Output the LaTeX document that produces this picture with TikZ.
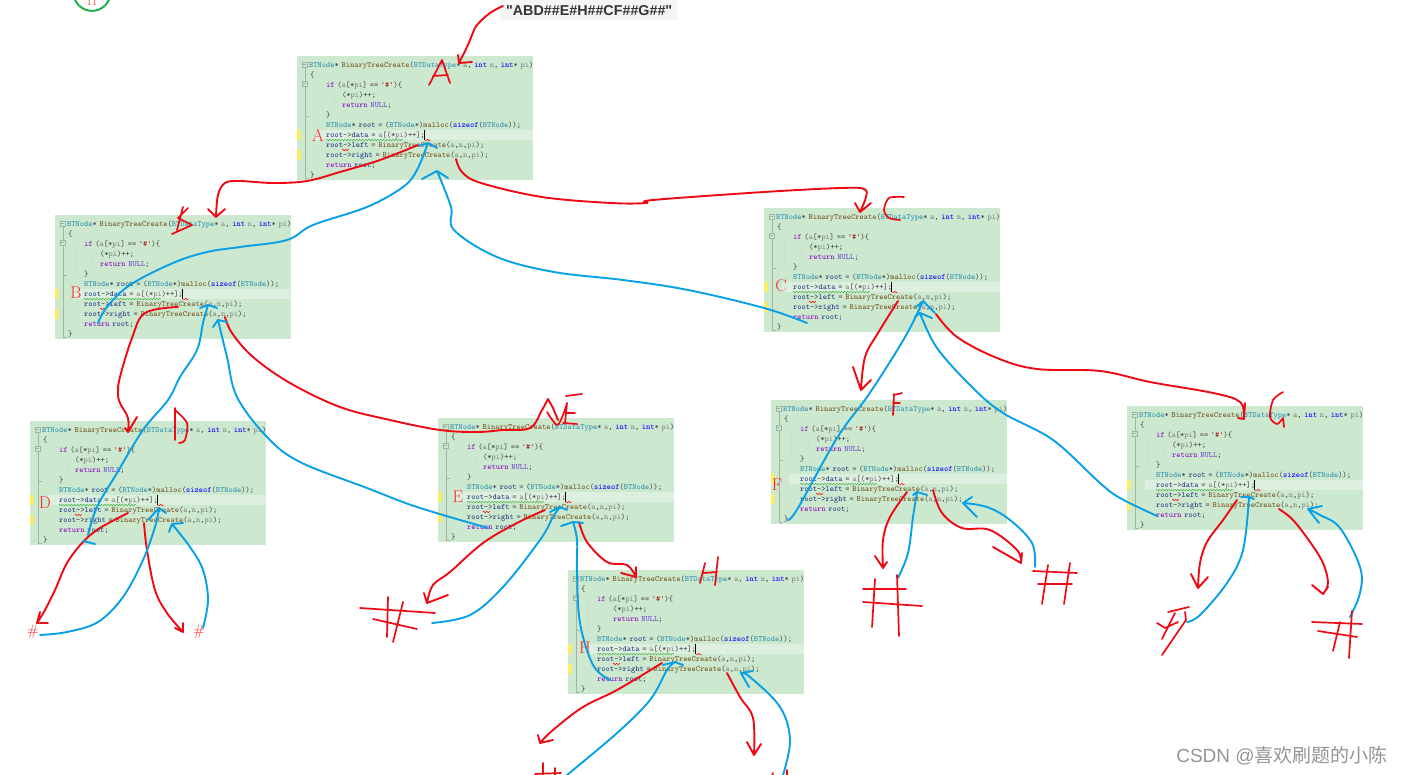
\documentclass[tikz,border=0pt]{standalone}
\usepackage{fontspec}
\usepackage{xcolor}
\usepackage{tikz}
\usetikzlibrary{decorations.pathmorphing}
\newfontfamily\labelfont{Liberation Sans}
\newfontfamily\cjkfont{Noto Sans CJK SC}
\definecolor{CodeGreen}{HTML}{CCE8CF}
\definecolor{LineGreen}{HTML}{DDEFDF}
\definecolor{MarkYellow}{HTML}{FFEE62}
\definecolor{GutterGray}{HTML}{A3B3A5}
\definecolor{CodeType}{HTML}{2B91AF}
\definecolor{CodeFunc}{HTML}{74531F}
\definecolor{CodeKey}{HTML}{8F08C4}
\definecolor{CodeInt}{HTML}{0000FF}
\definecolor{CodeNull}{HTML}{6F3FD0}
\definecolor{CodeStr}{HTML}{A31515}
\definecolor{CodeVar}{HTML}{808080}
\definecolor{CodeRoot}{HTML}{1F377F}
\definecolor{InkRed}{HTML}{EE0A14}
\definecolor{InkBlue}{HTML}{08A0E6}
\definecolor{InkGreen}{HTML}{22B14C}
\tikzset{
  codebox/.style={fill=CodeGreen,anchor=north west,minimum width=236pt,minimum height=124pt,inner sep=0pt},
  codetext/.style={anchor=north west,inner sep=0pt,align=left,text width=232pt,text=black!75,
              font=\fontsize{8}{10}\selectfont\ttfamily},
  boxletter/.style={inner sep=0pt,text=red!85,font=\fontsize{17}{17}\selectfont},
  gutter/.style={draw=GutterGray,line width=.6pt},
  callink/.style={draw=InkRed,line width=1.9pt,line cap=round,line join=round},
  backink/.style={draw=InkBlue,line width=1.9pt,line cap=round,line join=round},
  scribble/.style={draw=InkRed,line width=1.7pt,line cap=round,line join=round},
  hashtext/.style={inner sep=0pt,text=red!85,font=\fontsize{15}{15}\selectfont}
}
\newcommand{\ctype}[1]{\textcolor{CodeType}{#1}}
\newcommand{\cfunc}[1]{\textcolor{CodeFunc}{#1}}
\newcommand{\ckey}[1]{\textcolor{CodeKey}{#1}}
\newcommand{\cint}[1]{\textcolor{CodeInt}{#1}}
\newcommand{\cvar}[1]{\textcolor{CodeVar}{#1}}
\newcommand{\croot}[1]{\textcolor{CodeRoot}{#1}}
\newcommand{\codebody}{%
\ctype{BTNode}* \cfunc{BinaryTreeCreate}(\ctype{BTDataType}* \cvar{a}, \cint{int} \cvar{n}, \cint{int}* \cvar{pi})\\
\hspace*{1pt}\{\\
\hspace*{17pt}\ckey{if} (\cvar{a}[*\cvar{pi}] == \textcolor{CodeStr}{'\#'})\{\\
\hspace*{33pt}(*\cvar{pi})++;\\
\hspace*{33pt}\ckey{return} \textcolor{CodeNull}{NULL};\\
\hspace*{17pt}\}\\
\hspace*{17pt}\ctype{BTNode}* \croot{root} = (\ctype{BTNode}*)\cfunc{malloc}(\cint{sizeof}(\ctype{BTNode}));\\
\hspace*{17pt}\croot{root}->\croot{data} = \cvar{a}[(*\cvar{pi})++];\\
\hspace*{17pt}\croot{root}->\croot{left} = \cfunc{BinaryTreeCreate}(\cvar{a},\cvar{n},\cvar{pi});\\
\hspace*{17pt}\croot{root}->\croot{right} = \cfunc{BinaryTreeCreate}(\cvar{a},\cvar{n},\cvar{pi});\\
\hspace*{17pt}\ckey{return} \croot{root};\\
\hspace*{1pt}\}}
% name, left, top
\newcommand{\codepanel}[3]{%
  \node[codebox] (box#1) at (#2,#3) {};
  \begin{scope}[shift={(#2,#3)}]
    \fill[LineGreen] (18,74) rectangle (236,84);
    \fill[MarkYellow] (0,74) rectangle (3.5,84) (0,94) rectangle (3.5,104);
    \draw[gutter] (8,11) -- (8,25) (8,30) -- (8,122) -- (12,122) (8,60) -- (12,60);
    \draw[gutter] (5,6) rectangle (10,11) (5,25) rectangle (10,30) (6,8.5) -- (9,8.5) (6,27.5) -- (9,27.5);
    \draw[GutterGray!50,densely dotted,line width=.3pt] (20,31) -- (20,60) (37,38) -- (37,50);
    \node[codetext] (text#1) at (12,5.4) {\codebody};
    \draw[black,line width=.8pt] (127,74) -- (127,84);
    \draw[green!60!black,line width=.3pt,decorate,decoration={zigzag,amplitude=.8pt,segment length=3pt}] (29,84) -- (106,84);
    \draw[red,line width=.4pt,decorate,decoration={zigzag,amplitude=.8pt,segment length=3pt}] (45,94) -- (52,94) (128,84) -- (134,84);
  \end{scope}
}
\begin{document}
\begin{tikzpicture}[x=1pt,y=-1pt]
  \useasboundingbox (0,0) rectangle (1403,775);

  \node[circle,draw=InkGreen,line width=2pt,minimum size=37pt,inner sep=0pt] (marker) at (92,-7.6) {};
  \node[inner sep=0pt,text=red!60,font=\fontsize{15}{15}\selectfont] (markerH) at (92,0) {H};
  \node[fill=black!4,anchor=north west,minimum width=177pt,minimum height=20pt,inner sep=0pt,text=black!80,
        font=\labelfont\bfseries\fontsize{14.3}{14.3}\selectfont] (input) at (500,0) {\hspace*{1pt}"ABD\#\#E\#H\#\#CF\#\#G\#\#"};

  \codepanel{A}{297}{56}
  \codepanel{B}{55}{215}
  \codepanel{C}{764}{208}
  \codepanel{D}{30}{421}
  \codepanel{E}{438}{418}
  \codepanel{F}{771}{400}
  \codepanel{G}{1127}{406}
  \codepanel{H}{568}{570}

  \node[boxletter] (letterA) at (318,135) {A};
  \node[boxletter] (letterB) at (76,293) {B};
  \node[boxletter] (letterC) at (781,286) {C};
  \node[boxletter] (letterD) at (45,503) {D};
  \node[boxletter] (letterE) at (458,497) {E};
  \node[boxletter] (letterF) at (777,485) {F};
  \node[boxletter] (letterH) at (585,648) {H};
  \node[hashtext] (hashDl) at (33,632) {\#};
  \node[hashtext] (hashDr) at (199,632) {\#};

  % connector ends
  \coordinate (inputOut) at (503,6);  \coordinate (inputTip) at (459,63);
  \coordinate (aLeft) at (418,145);   \coordinate (bIn) at (216,217);
  \coordinate (aRight) at (456,159);  \coordinate (cIn) at (860,212);
  \coordinate (bRet) at (98,323);     \coordinate (aBackL) at (428,143);
  \coordinate (cRet) at (807,323);    \coordinate (aBackR) at (437,171);
  \coordinate (bLeft) at (178,307);   \coordinate (dIn) at (128,432);
  \coordinate (bRight) at (225,317);  \coordinate (eIn) at (548,399);
  \coordinate (dRet) at (88,535);     \coordinate (bBackL) at (208,305);
  \coordinate (eRet) at (488,528);    \coordinate (bBackR) at (218,320);
  \coordinate (dLeft) at (128,513);   \coordinate (dLeftEnd) at (37,623);
  \coordinate (dlRet) at (40,635);    \coordinate (dBackL) at (159,508);
  \coordinate (dRight) at (144,523);  \coordinate (dRightEnd) at (183,632);
  \coordinate (drRet) at (203,628);   \coordinate (dBackR) at (172,524);
  \coordinate (eLeft) at (545,510);   \coordinate (eLeftEnd) at (427,603);
  \coordinate (elRet) at (432,623);   \coordinate (eBackL) at (560,507);
  \coordinate (eRight) at (579,522);  \coordinate (hIn) at (636,577);
  \coordinate (hRet) at (610,680);    \coordinate (eBackR) at (573,522);
  \coordinate (hLeft) at (662,663);   \coordinate (hLeftEnd) at (540,743);
  \coordinate (hlRet) at (567,775);   \coordinate (hBackL) at (675,662);
  \coordinate (hRight) at (727,673);  \coordinate (hRightEnd) at (754,755);
  \coordinate (hrRet) at (783,775);   \coordinate (hBackR) at (741,673);
  \coordinate (cLeft) at (898,301);   \coordinate (fIn) at (861,390);
  \coordinate (cRight) at (936,314);  \coordinate (gIn) at (1244,419);
  \coordinate (fRet) at (788,520);    \coordinate (cBackL) at (923,301);
  \coordinate (gRet) at (1157,516);   \coordinate (cBackR) at (920,313);
  \coordinate (fLeft) at (907,492);   \coordinate (fLeftEnd) at (883,568);
  \coordinate (flRet) at (898,578);   \coordinate (fBackL) at (917,492);
  \coordinate (fRight) at (933,490);  \coordinate (fRightEnd) at (1021,563);
  \coordinate (frRet) at (1035,567);  \coordinate (fBackR) at (963,503);
  \coordinate (gLeft) at (1237,500);  \coordinate (gLeftEnd) at (1198,588);
  \coordinate (glRet) at (1187,622);  \coordinate (gBackL) at (1249,497);
  \coordinate (gRight) at (1279,509); \coordinate (gRightEnd) at (1323,594);
  \coordinate (grRet) at (1350,617);  \coordinate (gBackR) at (1308,509);

  % red calls
  \draw[callink] plot[smooth,tension=.6] coordinates {(inputOut) (490,13) (477,25) (472,35) (467,47) (inputTip)} (458,55) -- (inputTip) -- (472,62);
  \draw[callink] plot[smooth,tension=.6] coordinates {(aLeft) (380,160) (340,172) (307,181) (273,183) (240,181) (225,183) (218,195) (bIn)} (208,209) -- (bIn) -- (225,209);
  \draw[callink] plot[smooth,tension=.6] coordinates {(aRight) (462,172) (481,183) (542,197) (611,203) (646,203) (653,200) (764,192) (841,188) (864,189) (866,197) (cIn)} (855,203) -- (cIn) -- (871,203);
  \draw[callink] plot[smooth,tension=.6] coordinates {(bLeft) (145,313) (132,338) (120,377) (118,393) (120,403) (128,418) (dIn)} (125,428) -- (dIn) -- (137,417);
  \draw[callink] plot[smooth,tension=.6] coordinates {(bRight) (232,333) (253,357) (290,383) (340,407) (390,420) (440,430) (477,432) (503,430) (530,428) (542,410) (eIn)} (553,408) -- (eIn) (553,408) -- (558,420);
  \draw[callink] plot[smooth,tension=.6] coordinates {(dLeft) (100,528) (83,542) (67,563) (55,590) (45,610) (dLeftEnd)} (40,612) -- (dLeftEnd) -- (48,623);
  \draw[callink] plot[smooth,tension=.6] coordinates {(dRight) (147,550) (155,590) (167,613) (dRightEnd)} (175,628) -- (dRightEnd) -- (183,623);
  \draw[callink] plot[smooth,tension=.6] coordinates {(eLeft) (517,523) (483,543) (450,572) (433,585) (eLeftEnd)} (424,593) -- (eLeftEnd) -- (448,595);
  \draw[callink] plot[smooth,tension=.6] coordinates {(eRight) (587,542) (607,562) (627,565) (hIn)} (621,573) -- (hIn) -- (636,567);
  \draw[callink] plot[smooth,tension=.6] coordinates {(hLeft) (617,690) (583,707) (553,730) (hLeftEnd)} (538,735) -- (hLeftEnd) -- (553,740);
  \draw[callink] plot[smooth,tension=.6] coordinates {(hRight) (740,697) (753,718) (hRightEnd)} (747,742) -- (hRightEnd) -- (761,744);
  \draw[callink] plot[smooth,tension=.6] coordinates {(cLeft) (878,333) (865,357) (fIn)} (853,367) -- (fIn) -- (871,380);
  \draw[callink] plot[smooth,tension=.6] coordinates {(cRight) (957,337) (997,358) (1037,369) (1100,371) (1150,382) (1213,393) (1240,402) (gIn)} (1238,418) -- (gIn) -- (1245,403);
  \draw[callink] plot[smooth,tension=.6] coordinates {(fLeft) (890,517) (883,540) (fLeftEnd)} (875,556) -- (fLeftEnd) -- (887,562);
  \draw[callink] plot[smooth,tension=.6] coordinates {(fRight) (942,513) (962,528) (990,530) (1017,550) (fRightEnd)} (993,547) -- (fRightEnd) -- (1022,553);
  \draw[callink] plot[smooth,tension=.6] coordinates {(gLeft) (1223,520) (1207,542) (1200,563) (gLeftEnd)} (1191,574) -- (gLeftEnd) -- (1208,577);
  \draw[callink] plot[smooth,tension=.6] coordinates {(gRight) (1293,520) (1310,542) (1323,563) (1328,583) (gRightEnd)} (1312,585) -- (gRightEnd) -- (1328,587);

  % blue returns
  \draw[backink] plot[smooth,tension=.6] coordinates {(bRet) (107,307) (130,285) (173,263) (207,252) (240,247) (287,240) (313,225) (367,207) (403,187) (417,170) (aBackL)} (419,146) -- (aBackL) -- (437,148);
  \draw[backink] plot[smooth,tension=.6] coordinates {(cRet) (764,308) (688,290) (623,280) (554,272) (497,257) (454,230) (451,207) (aBackR)} (422,179) -- (aBackR) -- (448,178);
  \draw[backink] plot[smooth,tension=.6] coordinates {(dRet) (97,507) (117,473) (143,430) (168,400) (180,377) (197,350) (203,323) (bBackL)} (200,308) -- (bBackL) -- (217,308);
  \draw[backink] (83,541) -- (95,544);
  \draw[backink] plot[smooth,tension=.6] coordinates {(eRet) (417,507) (367,488) (300,462) (267,437) (237,397) (227,357) (bBackR)} (213,327) -- (bBackR) -- (227,322);
  \draw[backink] plot[smooth,tension=.6] coordinates {(dlRet) (67,632) (98,622) (123,597) (143,560) (155,527) (dBackL)} (148,520) -- (dBackL) -- (166,513);
  \draw[backink] plot[smooth,tension=.6] coordinates {(drRet) (208,600) (203,570) (190,547) (dBackR)} (169,532) -- (dBackR) -- (183,523);
  \draw[backink] plot[smooth,tension=.6] coordinates {(elRet) (470,615) (503,587) (540,540) (553,517) (eBackL)} (550,512) -- (eBackL) -- (567,510);
  \draw[backink] plot[smooth,tension=.6] coordinates {(hRet) (593,665) (580,623) (577,573) (577,540) (eBackR)} (561,526) -- (eBackR) -- (583,523);
  \draw[backink] plot[smooth,tension=.6] coordinates {(hlRet) (617,733) (650,700) (667,670) (hBackL)} (663,665) -- (hBackL) -- (683,665);
  \draw[backink] plot[smooth,tension=.6] coordinates {(hrRet) (790,740) (780,707) (750,677) (hBackR)} (749,687) -- (hBackR) -- (753,671);
  \draw[backink] plot[smooth,tension=.6] coordinates {(fRet) (798,508) (837,438) (867,397) (893,357) (910,328) (cBackL)} (916,307) -- (cBackL) -- (935,313);
  \draw[backink] plot[smooth,tension=.6] coordinates {(gRet) (1120,498) (1100,483) (1053,440) (1003,413) (973,388) (937,348) (cBackR)} (915,317) -- (cBackR) -- (932,318);
  \draw[backink] plot[smooth,tension=.6] coordinates {(flRet) (908,553) (913,517) (fBackL)} (913,495) -- (fBackL) -- (927,495);
  \draw[backink] plot[smooth,tension=.6] coordinates {(frRet) (1032,543) (1010,520) (987,507) (fBackR)} (977,517) -- (fBackR) -- (972,497);
  \draw[backink] plot[smooth,tension=.6] coordinates {(glRet) (1200,615) (1227,583) (1243,550) (gBackL)} (1241,497) -- (gBackL) -- (1254,499);
  \draw[backink] plot[smooth,tension=.6] coordinates {(grRet) (1360,593) (1360,567) (1340,528) (1320,515) (gBackR)} (1319,523) -- (gBackR) -- (1322,506);

  % handwritten letters
  \draw[scribble] (429,85) -- (442,60) -- (450,83) (433,76) -- (448,75);
  \draw[scribble] (183,207) -- (177,230) (188,208) -- (178,218) -- (192,225) -- (172,234);
  \draw[scribble] plot[smooth] coordinates {(904,197) (889,198) (884,210) (889,218) (900,220)};
  \draw[scribble] (175,408) -- (175,440) plot[smooth] coordinates {(175,410) (187,423) (185,440) (179,443)};
  \draw[scribble] plot[smooth] coordinates {(547,412) (557,425) (563,415) (567,403)} (567,403) -- (565,423) (566,396) -- (582,394) (567,413) -- (575,413) (563,423) -- (577,424);
  \draw[scribble] (894,394) -- (893,415) (894,395) -- (902,393) (893,403) -- (900,403);
  \draw[scribble] plot[smooth] coordinates {(1283,392) (1273,400) (1270,417) (1277,424) (1283,418)} (1283,418) -- (1284,427);
  \draw[scribble] (705,563) -- (700,583) (718,557) -- (715,585) (703,573) -- (717,572);

  % handwritten hash marks
  \draw[scribble] (360,608) -- (435,613) (373,619) -- (417,629) (388,597) -- (387,637) (403,602) -- (393,642);
  \draw[scribble] (863,589) -- (906,589) (863,602) -- (922,606) (875,579) -- (872,627) (897,575) -- (899,636);
  \draw[scribble] (1033,571) -- (1077,573) (1038,584) -- (1072,584) (1048,565) -- (1042,604) (1070,563) -- (1064,604);
  \draw[scribble] (1157,623) -- (1165,628) -- (1178,622) (1168,612) -- (1189,607) (1175,613) -- (1162,639) (1185,612) -- (1186,620) -- (1162,655);
  \draw[scribble] (1312,622) -- (1362,624) (1318,631) -- (1357,637) (1340,622) -- (1333,651) (1352,611) -- (1349,658);
  \draw[scribble] (543,763) -- (543,776) (555,768) -- (555,776) (535,774) -- (561,773);
  \draw[scribble] (773,773) -- (772,776) (787,770) -- (787,776);

  \node[inner sep=0pt,text=black!42,font=\fontsize{19}{19}\selectfont] (watermark) at (1282,756) {{\labelfont CSDN @}{\cjkfont 喜欢刷题的小陈}};
\end{tikzpicture}
\end{document}
